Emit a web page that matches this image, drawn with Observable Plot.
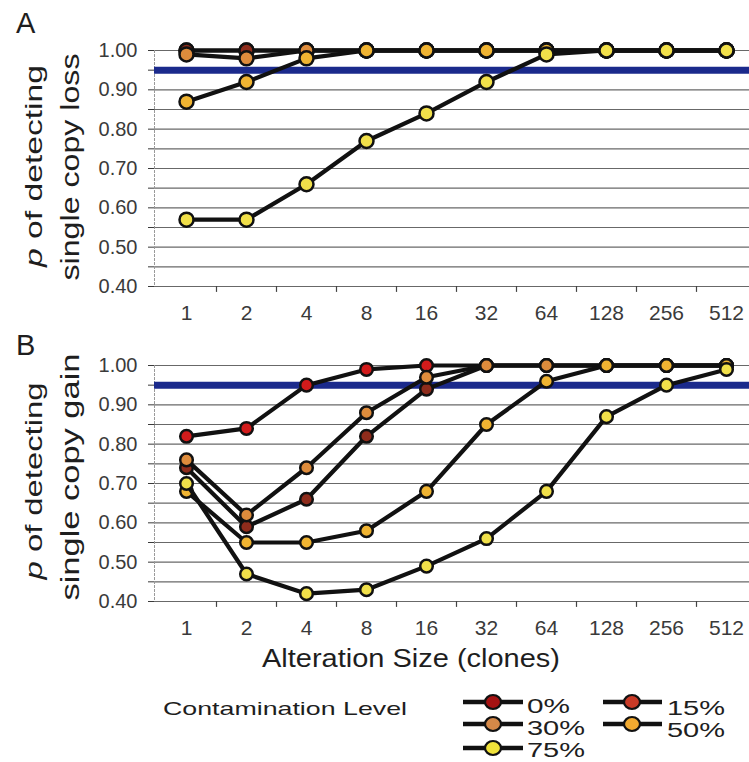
<!DOCTYPE html>
<html><head><meta charset="utf-8">
<script src="https://cdn.jsdelivr.net/npm/d3@7"></script>
<script src="https://cdn.jsdelivr.net/npm/@observablehq/plot@0.6"></script>
<style>
body{margin:0;background:#fff;}
#page{position:relative;width:749px;height:762px;overflow:hidden;font-family:"Liberation Sans",Arial,sans-serif;background:#fff;}
#page svg{position:absolute;left:0;}
</style></head><body><div id="page"></div>
<script>
// ---- data ----
const sizes = [1, 2, 4, 8, 16, 32, 64, 128, 256, 512];
const sizeLabels = ["1", "2", "4", "8", "16", "32", "64", "128", "256", "512"];
const levels = ["0%", "15%", "30%", "50%", "75%"];

// Panel A: p of detecting single copy loss
const loss0  = [1.00, 1.00, 1.00, 1.00, 1.00, 1.00, 1.00, 1.00, 1.00, 1.00];
const loss15 = [1.00, 1.00, 1.00, 1.00, 1.00, 1.00, 1.00, 1.00, 1.00, 1.00];
const loss30 = [0.99, 0.98, 1.00, 1.00, 1.00, 1.00, 1.00, 1.00, 1.00, 1.00];
const loss50 = [0.87, 0.92, 0.98, 1.00, 1.00, 1.00, 1.00, 1.00, 1.00, 1.00];
const loss75 = [0.57, 0.57, 0.66, 0.77, 0.84, 0.92, 0.99, 1.00, 1.00, 1.00];

// Panel B: p of detecting single copy gain
const gain0  = [0.82, 0.84, 0.95, 0.99, 1.00, 1.00, 1.00, 1.00, 1.00, 1.00];
const gain15 = [0.74, 0.59, 0.66, 0.82, 0.94, 1.00, 1.00, 1.00, 1.00, 1.00];
const gain30 = [0.76, 0.62, 0.74, 0.88, 0.97, 1.00, 1.00, 1.00, 1.00, 1.00];
const gain50 = [0.68, 0.55, 0.55, 0.58, 0.68, 0.85, 0.96, 1.00, 1.00, 1.00];
const gain75 = [0.70, 0.47, 0.42, 0.43, 0.49, 0.56, 0.68, 0.87, 0.95, 0.99];

const yTickValues = [0.40, 0.45, 0.50, 0.55, 0.60, 0.65, 0.70, 0.75, 0.80, 0.85, 0.90, 0.95, 1.00];
const threshold = 0.95;

// ---- styles ----
const dotColors = ["#d21b1b", "#8e2c1c", "#de8c3c", "#f0b432", "#f1e04a"];
const legendColors = ["#a51212", "#c83a26", "#d48848", "#f2aa30", "#f0e23a"];

function tidy(series) {
  return series.flatMap((arr, k) => sizes.map((s, i) => ({size: s, level: levels[k], p: arr[i]})));
}
const lossData = tidy([loss0, loss15, loss30, loss50, loss75]);
const gainData = tidy([gain0, gain15, gain30, gain50, gain75]);
const boundaries = d3.pairs(sizes, (a, b) => Math.sqrt(a * b));

function panel(data, top, r) {
  const marks = [
    Plot.ruleY(yTickValues, {stroke: "#4d4d4d", strokeWidth: 1.1, strokeOpacity: 0.85}),
    Plot.frame({anchor: "left", stroke: "#9a9a9a", strokeDasharray: "2,2"}),
    Plot.ruleY([threshold], {stroke: "#1b2a8c", strokeWidth: 7}),
    Plot.ruleX(boundaries, {y1: 0.40, y2: 0.385, stroke: "#444", strokeWidth: 1.2, clip: false}),
    Plot.axisY({ticks: yTickValues, tickSize: 6, tickPadding: 11, fontSize: 20, label: null,
      tickFormat: d => (Math.round(d * 100) % 10 === 0 ? d.toFixed(2) : "")}),
    Plot.axisX({ticks: sizes, tickSize: 0, tickPadding: 19, fontSize: 21, label: null,
      tickFormat: d => sizeLabels[sizes.indexOf(d)]})
  ];
  levels.forEach((lv, k) => {
    const d = data.filter(o => o.level === lv);
    marks.push(Plot.line(d, {x: "size", y: "p", stroke: "#111", strokeWidth: 4.2}));
    marks.push(Plot.dot(d, {x: "size", y: "p", r: r, fill: dotColors[k], stroke: "#111", strokeWidth: 2.5}));
  });
  const svg = Plot.plot({
    width: 749, height: 320,
    marginLeft: 154, marginRight: 0, marginTop: 50, marginBottom: 34,
    style: {fontFamily: "'Liberation Sans', Arial, sans-serif", color: "#3a3a3a", background: "transparent", overflow: "visible"},
    x: {type: "log", base: 2, domain: [0.7071, 724.08], range: [156, 756]},
    y: {domain: [0.40, 1.00]},
    marks
  });
  svg.style.top = top + "px";
  document.getElementById("page").appendChild(svg);
}
panel(lossData, 0, 7);
panel(gainData, 315, 6.3);

// ---- overlay text & legend ----
const ov = d3.select("#page").append("svg")
  .attr("width", 749).attr("height", 762).style("top", "0px")
  .style("font-family", "'Liberation Sans', Arial, sans-serif").style("pointer-events", "none");

function stretched(g, txt, x, y, size, len, anchor, rot) {
  const t = g.append("text").attr("font-size", size).attr("fill", "#1e1e1e")
    .attr("text-anchor", anchor || "start")
    .attr("textLength", len).attr("lengthAdjust", "spacingAndGlyphs");
  if (rot) t.attr("transform", `translate(${x},${y}) rotate(-90)`);
  else t.attr("x", x).attr("y", y);
  return t.text(txt);
}
function pTitle(x, y, len) {
  const t = ov.append("text").attr("font-size", 24).attr("fill", "#1e1e1e").attr("text-anchor", "middle")
    .attr("transform", `translate(${x},${y}) rotate(-90)`)
    .attr("textLength", len).attr("lengthAdjust", "spacingAndGlyphs");
  t.append("tspan").attr("font-style", "italic").text("p");
  t.append("tspan").text(" of detecting");
}
ov.append("text").attr("x", 16).attr("y", 33).attr("font-size", 29).attr("fill", "#1e1e1e").text("A");
ov.append("text").attr("x", 16).attr("y", 355).attr("font-size", 29).attr("fill", "#1e1e1e").text("B");
pTitle(42, 166, 202);
stretched(ov, "single copy loss", 79, 167, 25, 227, "middle", true);
pTitle(42, 481, 197);
stretched(ov, "single copy gain", 79, 477, 25, 247, "middle", true);
stretched(ov, "Alteration Size (clones)", 262, 667, 25, 298, "start");
stretched(ov, "Contamination Level", 163, 715, 19, 244, "start");

const legendItems = [
  {k: 0, x1: 463, cx: 493, x2: 523, y: 702, tx: 527, ty: 713, w: 43},
  {k: 1, x1: 603, cx: 632, x2: 662, y: 702, tx: 667, ty: 715, w: 58},
  {k: 2, x1: 463, cx: 493, x2: 523, y: 724, tx: 527, ty: 735, w: 58},
  {k: 3, x1: 603, cx: 632, x2: 662, y: 724, tx: 667, ty: 737, w: 58},
  {k: 4, x1: 463, cx: 493, x2: 523, y: 748, tx: 527, ty: 757, w: 58}
];
legendItems.forEach(it => {
  ov.append("line").attr("x1", it.x1).attr("x2", it.x2).attr("y1", it.y).attr("y2", it.y)
    .attr("stroke", "#111").attr("stroke-width", 4.5);
  ov.append("ellipse").attr("cx", it.cx).attr("cy", it.y).attr("rx", 8).attr("ry", 7)
    .attr("fill", legendColors[it.k]).attr("stroke", "#111").attr("stroke-width", 2.2);
  stretched(ov, levels[it.k], it.tx, it.ty, 20, it.w, "start");
});
</script></body></html>
